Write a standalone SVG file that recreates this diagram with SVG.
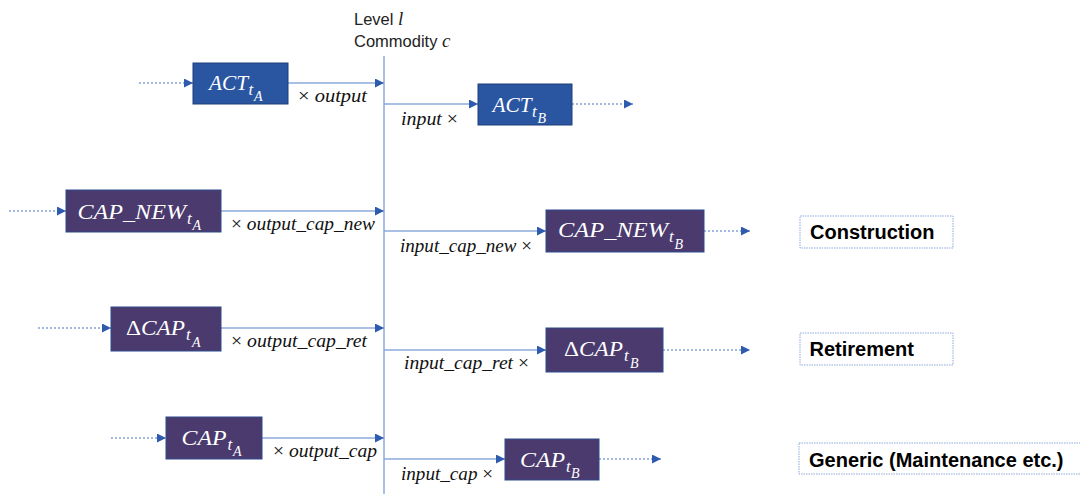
<svg xmlns="http://www.w3.org/2000/svg" width="1080" height="494" viewBox="0 0 1080 494">
<defs>
<style>
.bA{fill:#2A56A1;stroke:#1F3F7A;stroke-width:1}
.bP{fill:#4A3A6E;stroke:#2F4A8C;stroke-width:1}
.m{font-family:"Liberation Serif","Times New Roman",serif;font-style:italic;font-size:22px;fill:#ffffff}
.s1{font-size:17px}
.s2{font-size:14px}
.lab{font-family:"Liberation Serif","Times New Roman",serif;font-style:italic;font-size:19px;fill:#111111}
.up{font-style:normal}
.solid{stroke:#8EAADB;stroke-width:1.5;fill:none}
.dot{stroke:#4472C4;stroke-width:1;stroke-dasharray:2 2;fill:none}
.tag{fill:#ffffff;stroke:#8EA9DB;stroke-width:1;stroke-dasharray:1.5 1}
.tagt{font-family:"Liberation Sans",Arial,sans-serif;font-weight:bold;font-size:20px;fill:#000000}
.hdr{font-family:"Liberation Sans",Arial,sans-serif;font-size:16.5px;fill:#222222}
.hdri{font-family:"Liberation Serif","Times New Roman",serif;font-style:italic;font-size:19px}
</style>
<marker id="ah" viewBox="0 0 10 10" refX="10" refY="5" markerWidth="9" markerHeight="9" markerUnits="userSpaceOnUse" orient="auto">
<path d="M0,0 L10,5 L0,10 z" fill="#2F5BAE"/>
</marker>
</defs>
<rect width="1080" height="494" fill="#ffffff"/>

<g id="header">
<text class="hdr" x="354" y="25">Level <tspan class="hdri">l</tspan></text>
<text class="hdr" x="354" y="46.5">Commodity <tspan class="hdri">c</tspan></text>
</g>

<g id="connectors">
<line class="solid" x1="384" y1="56" x2="384" y2="494"/>
<line class="dot" x1="139" y1="83" x2="193" y2="83" marker-end="url(#ah)"/>
<line class="solid" x1="288" y1="83" x2="384" y2="83" marker-end="url(#ah)"/>
<line class="solid" x1="384" y1="104" x2="478" y2="104" marker-end="url(#ah)"/>
<line class="dot" x1="572" y1="104" x2="633" y2="104" marker-end="url(#ah)"/>
<line class="dot" x1="9" y1="211" x2="66" y2="211" marker-end="url(#ah)"/>
<line class="solid" x1="221" y1="211" x2="384" y2="211" marker-end="url(#ah)"/>
<line class="solid" x1="384" y1="231" x2="546" y2="231" marker-end="url(#ah)"/>
<line class="dot" x1="704" y1="231" x2="750" y2="231" marker-end="url(#ah)"/>
<line class="dot" x1="38" y1="328" x2="111" y2="328" marker-end="url(#ah)"/>
<line class="solid" x1="221" y1="328" x2="384" y2="328" marker-end="url(#ah)"/>
<line class="solid" x1="384" y1="350" x2="546" y2="350" marker-end="url(#ah)"/>
<line class="dot" x1="663" y1="350" x2="750" y2="350" marker-end="url(#ah)"/>
<line class="dot" x1="111" y1="438" x2="166" y2="438" marker-end="url(#ah)"/>
<line class="solid" x1="262" y1="438" x2="384" y2="438" marker-end="url(#ah)"/>
<line class="solid" x1="384" y1="459" x2="505" y2="459" marker-end="url(#ah)"/>
<line class="dot" x1="599" y1="459" x2="661" y2="459" marker-end="url(#ah)"/>

<text class="lab" x="298" y="102" textLength="69" lengthAdjust="spacingAndGlyphs"><tspan class="up">×</tspan> output</text>
<text class="lab" x="401" y="125" textLength="57" lengthAdjust="spacingAndGlyphs">input <tspan class="up">×</tspan></text>
<text class="lab" x="231" y="230" textLength="144" lengthAdjust="spacingAndGlyphs"><tspan class="up">×</tspan> output_cap_new</text>
<text class="lab" x="400" y="252" textLength="132" lengthAdjust="spacingAndGlyphs">input_cap_new <tspan class="up">×</tspan></text>
<text class="lab" x="231" y="347" textLength="136" lengthAdjust="spacingAndGlyphs"><tspan class="up">×</tspan> output_cap_ret</text>
<text class="lab" x="404" y="369" textLength="125" lengthAdjust="spacingAndGlyphs">input_cap_ret <tspan class="up">×</tspan></text>
<text class="lab" x="273" y="457" textLength="104" lengthAdjust="spacingAndGlyphs"><tspan class="up">×</tspan> output_cap</text>
<text class="lab" x="401" y="480" textLength="92" lengthAdjust="spacingAndGlyphs">input_cap <tspan class="up">×</tspan></text>
</g>

<g id="ACT_tA">
<rect class="bA" x="193" y="63" width="95" height="41"/>
<text class="m"><tspan x="209" y="90" textLength="39" lengthAdjust="spacingAndGlyphs">ACT</tspan><tspan class="s1" x="248.5" y="95">t</tspan><tspan class="s2" x="254" y="101">A</tspan></text>
</g>
<g id="ACT_tB">
<rect class="bA" x="478" y="84" width="94" height="41"/>
<text class="m"><tspan x="492.5" y="112" textLength="39" lengthAdjust="spacingAndGlyphs">ACT</tspan><tspan class="s1" x="532" y="117">t</tspan><tspan class="s2" x="537.5" y="123">B</tspan></text>
</g>

<g id="CAP_NEW_tA">
<rect class="bP" x="66" y="190" width="155" height="42"/>
<text class="m"><tspan x="77.5" y="218.5" textLength="108.5" lengthAdjust="spacingAndGlyphs">CAP_NEW</tspan><tspan class="s1" x="187" y="223.5">t</tspan><tspan class="s2" x="192.5" y="229.5">A</tspan></text>
</g>
<g id="CAP_NEW_tB">
<rect class="bP" x="546" y="210" width="158" height="42"/>
<text class="m"><tspan x="558" y="237" textLength="110" lengthAdjust="spacingAndGlyphs">CAP_NEW</tspan><tspan class="s1" x="669" y="242">t</tspan><tspan class="s2" x="674.5" y="248.5">B</tspan></text>
</g>

<g id="dCAP_tA">
<rect class="bP" x="111" y="307" width="110" height="44"/>
<text class="m"><tspan x="126" y="335" textLength="59" lengthAdjust="spacingAndGlyphs"><tspan class="up">Δ</tspan>CAP</tspan><tspan class="s1" x="186" y="340">t</tspan><tspan class="s2" x="192" y="346.5">A</tspan></text>
</g>
<g id="dCAP_tB">
<rect class="bP" x="546" y="328" width="117" height="44"/>
<text class="m"><tspan x="564" y="356" textLength="59" lengthAdjust="spacingAndGlyphs"><tspan class="up">Δ</tspan>CAP</tspan><tspan class="s1" x="624" y="361">t</tspan><tspan class="s2" x="630" y="367.5">B</tspan></text>
</g>

<g id="CAP_tA">
<rect class="bP" x="166" y="417" width="96" height="42"/>
<text class="m"><tspan x="181.5" y="445" textLength="45" lengthAdjust="spacingAndGlyphs">CAP</tspan><tspan class="s1" x="227.5" y="450">t</tspan><tspan class="s2" x="233" y="455.5">A</tspan></text>
</g>
<g id="CAP_tB">
<rect class="bP" x="505" y="439" width="94" height="41"/>
<text class="m"><tspan x="520" y="467" textLength="45" lengthAdjust="spacingAndGlyphs">CAP</tspan><tspan class="s1" x="566" y="472">t</tspan><tspan class="s2" x="571" y="477.5">B</tspan></text>
</g>

<g id="Construction">
<rect class="tag" x="800" y="216" width="153" height="32"/>
<text class="tagt" x="810" y="239">Construction</text>
</g>
<g id="Retirement">
<rect class="tag" x="800" y="333" width="153" height="32"/>
<text class="tagt" x="809.5" y="356">Retirement</text>
</g>
<g id="Generic">
<rect class="tag" x="799" y="443" width="290" height="31"/>
<text class="tagt" x="809" y="467">Generic (Maintenance etc.)</text>
</g>
</svg>
